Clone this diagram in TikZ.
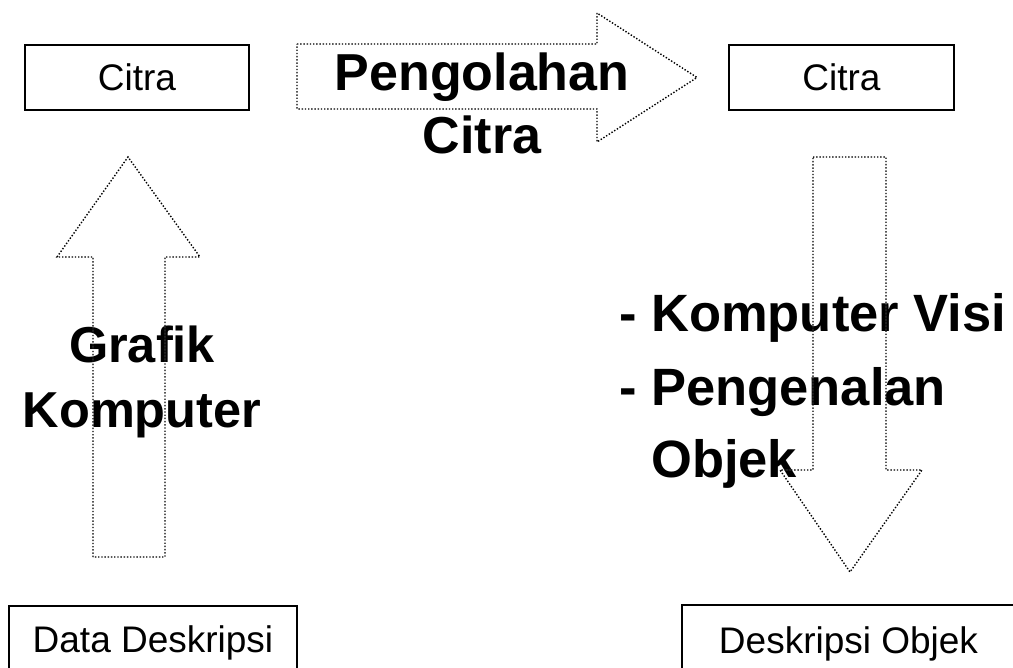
\documentclass[tikz,border=0pt]{standalone}
\usepackage{fontspec}
\setmainfont{Liberation Sans}
\usetikzlibrary{positioning}

\tikzset{
  box/.style={draw, line width=1.2pt, inner sep=0pt, text depth=0pt,
    font=\fontsize{37}{44}\selectfont},
  blockarrow/.style={draw, dash pattern=on 1.4pt off 1.8pt, line width=1.4pt,
    preaction={draw=white, solid}},
  biglabel/.style={inner sep=0pt, font=\fontsize{52}{63}\selectfont\bfseries},
}

\begin{document}
\begin{tikzpicture}[x=1pt, y=-1pt]
    \useasboundingbox (0,0) rectangle (1013,668);
    \clip (0,0) rectangle (1013,668);

    % Boxes
    \node[box, minimum width=224pt, minimum height=65pt] (citraA) at (137,77.5) {Citra};
    \node[box, minimum width=225pt, minimum height=65pt] (citraB) at (841.5,77.5) {Citra};
    \node[box, minimum width=288pt, minimum height=66pt] (data) at (153,639) {Data Deskripsi};
    \node[box, minimum width=333pt, minimum height=70pt] (objek) at (848.5,640) {Deskripsi Objek};

    % Labels of the three processes (base = last line)
    \node[biglabel, align=center, anchor=base] (olah) at (482,154) {Pengolahan\\Citra};
    \node[biglabel, font=\fontsize{50.5}{65}\selectfont\bfseries, align=center, anchor=base]
      (grafik) at (142,428) {Grafik\\Komputer};
    \node[biglabel, font=\fontsize{52.5}{73}\selectfont\bfseries, align=left, anchor=base west]
      (visi) at (619,478) {- Komputer Visi\\- Pengenalan\\\phantom{- }Objek};

    % Block arrows (dotted outline, drawn over the labels)
    \draw[blockarrow] (297,44) -- (597,44) -- (597,13) -- (697,77.5)
      -- (597,142) -- (597,109) -- (297,109) -- cycle;
    \draw[blockarrow] (93,557) -- (93,257) -- (57,257) -- (128,157)
      -- (200,257) -- (165,257) -- (165,557) -- cycle;
    \draw[blockarrow] (813,157) -- (886,157) -- (886,470) -- (922,470)
      -- (850,572) -- (780,470) -- (813,470) -- cycle;
\end{tikzpicture}
\end{document}
